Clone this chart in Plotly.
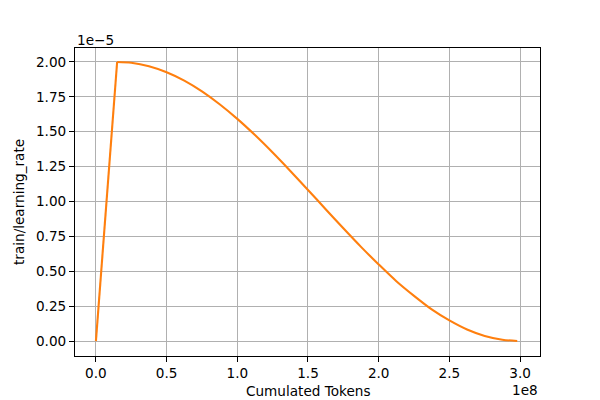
import plotly.graph_objects as go

# tokens (x 1e8) and learning rate (x 1e-5)
tokens = [0.0, 0.15, 0.25, 0.375, 0.5, 0.625, 0.75, 0.875, 1.0, 1.125, 1.25, 1.375,
          1.5, 1.625, 1.75, 1.875, 2.0, 2.125, 2.25, 2.375, 2.5, 2.625, 2.75, 2.875, 2.98]
learning_rate = [0.0, 2.0, 1.994, 1.969, 1.926, 1.866, 1.789, 1.697, 1.592, 1.476, 1.351, 1.219,
                 1.083, 0.945, 0.808, 0.675, 0.549, 0.429, 0.324, 0.227, 0.148, 0.083, 0.037, 0.010, 0.0]

x_ticks = [0.0, 0.5, 1.0, 1.5, 2.0, 2.5, 3.0]
y_ticks = [0.0, 0.25, 0.5, 0.75, 1.0, 1.25, 1.5, 1.75, 2.0]

font = dict(family="DejaVu Sans", size=13.6, color="black")
line = dict(color="#ff7f0e", width=2.1)

fig = go.Figure()
# warmup is a straight ramp, the decay is a smooth curve
fig.add_trace(go.Scatter(x=tokens[:2], y=learning_rate[:2], mode="lines", line=line))
fig.add_trace(go.Scatter(x=tokens[1:], y=learning_rate[1:], mode="lines",
                         line=dict(line, shape="spline", smoothing=0.8)))

axis_style = dict(showgrid=True, gridcolor="#b0b0b0", gridwidth=1,
                  showline=True, linecolor="black", linewidth=1.1, mirror=True,
                  ticks="outside", ticklen=5, tickcolor="black", tickwidth=1.1,
                  zeroline=False, tickfont=font, automargin=False)

fig.update_xaxes(range=[-0.148, 3.141], tickvals=x_ticks, tickformat=".1f", **axis_style)
fig.update_yaxes(range=[-0.107, 2.1], tickvals=y_ticks, tickformat=".2f", **axis_style)

# axis titles
fig.add_annotation(text="Cumulated Tokens", xref="paper", yref="paper", x=0.5, y=0,
                   xanchor="center", yanchor="top", showarrow=False, font=font, yshift=-25)
fig.add_annotation(text="train/learning_rate", xref="paper", yref="paper", x=0, y=0.5,
                   xanchor="right", yanchor="middle", textangle=-90, showarrow=False,
                   font=font, xshift=-46)

# offset labels like matplotlib
fig.add_annotation(text="1e\u22125", xref="paper", yref="paper", x=0, y=1,
                   xanchor="left", yanchor="bottom", showarrow=False, font=font, yshift=-2)
fig.add_annotation(text="1e8", xref="paper", yref="paper", x=1, y=0,
                   xanchor="right", yanchor="top", showarrow=False, font=font, yshift=-24)

fig.update_layout(width=600, height=400, showlegend=False,
                  margin=dict(l=75, r=60, t=48, b=44),
                  plot_bgcolor="white", paper_bgcolor="white", font=font)

# drop the page's default body margin so the figure fills the window
fig.write_html("out.html", config={"displayModeBar": False},
               post_script="document.body.style.margin='0';")
